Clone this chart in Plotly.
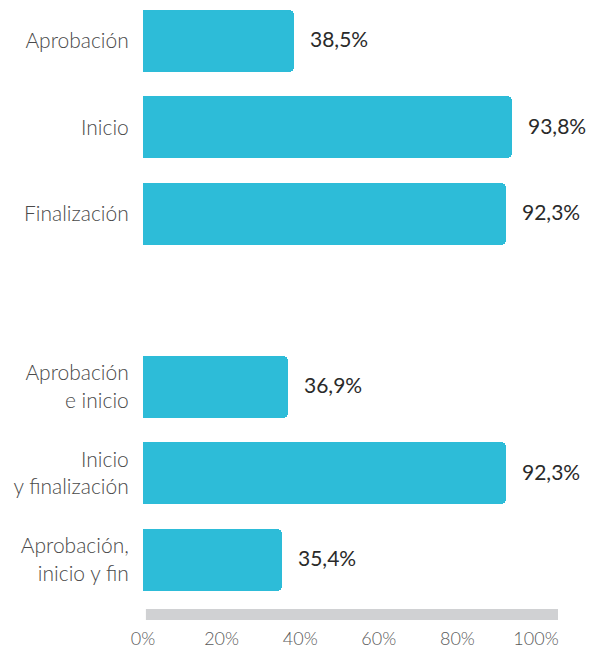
import plotly.graph_objects as go

# Categories in display order (top to bottom); a blank slot separates the two groups
categories = ["Aprobación", "Inicio", "Finalización",
              "Aprobación<br>e inicio", "Inicio<br>y finalización", "Aprobación,<br>inicio y fin"]
values = [38.5, 93.8, 92.3, 36.9, 92.3, 35.4]
slots = [0, 1, 2, 4, 5, 6]
tick_values = [0, 20, 40, 60, 80, 100]
tick_labels = ["0%", "20%", "40%", "60%", "80%", "100%"]

BAR_COLOR = "#2dbcd8"
FONT = "Lato"

fig = go.Figure()
fig.add_trace(go.Bar(
    x=values,
    y=slots,
    orientation="h",
    marker=dict(color=BAR_COLOR, line=dict(width=0), cornerradius=5),
    width=0.715,
    hoverinfo="skip",
))

# Value labels just past the end of each bar
for v, s in zip(values, slots):
    fig.add_annotation(
        x=v, y=s, xref="x", yref="y",
        text=f"{v:.1f}%".replace(".", ","),
        showarrow=False, xanchor="left", xshift=14, yshift=2,
        font=dict(family=FONT, size=21, color="#2a2a2a", weight=400),
    )

# Light grey baseline under the bars
fig.add_shape(
    type="line", xref="paper", yref="paper",
    x0=0.007, x1=1, y0=-0.019, y1=-0.019,
    line=dict(color="#d0d1d3", width=11),
)

fig.update_layout(
    width=598, height=651,
    margin=dict(l=143, r=40, t=0, b=48),
    paper_bgcolor="white", plot_bgcolor="white",
    showlegend=False,
    bargap=0,
    xaxis=dict(
        range=[0, 105.6],
        tickvals=tick_values, ticktext=tick_labels,
        showgrid=False, zeroline=False, showline=False,
        ticks="outside", ticklen=19, tickcolor="rgba(0,0,0,0)",
        tickfont=dict(family=FONT, size=18, color="#5a5a5a", weight=300),
        fixedrange=True,
    ),
    yaxis=dict(
        range=[6.5, -0.47],
        tickvals=slots, ticktext=categories,
        showgrid=False, zeroline=False, showline=False,
        ticks="outside", ticklen=9, tickcolor="rgba(0,0,0,0)",
        tickfont=dict(family=FONT, size=21, color="#4a4a4a", weight=300),
        fixedrange=True,
    ),
)

fig.write_html("out.html")
